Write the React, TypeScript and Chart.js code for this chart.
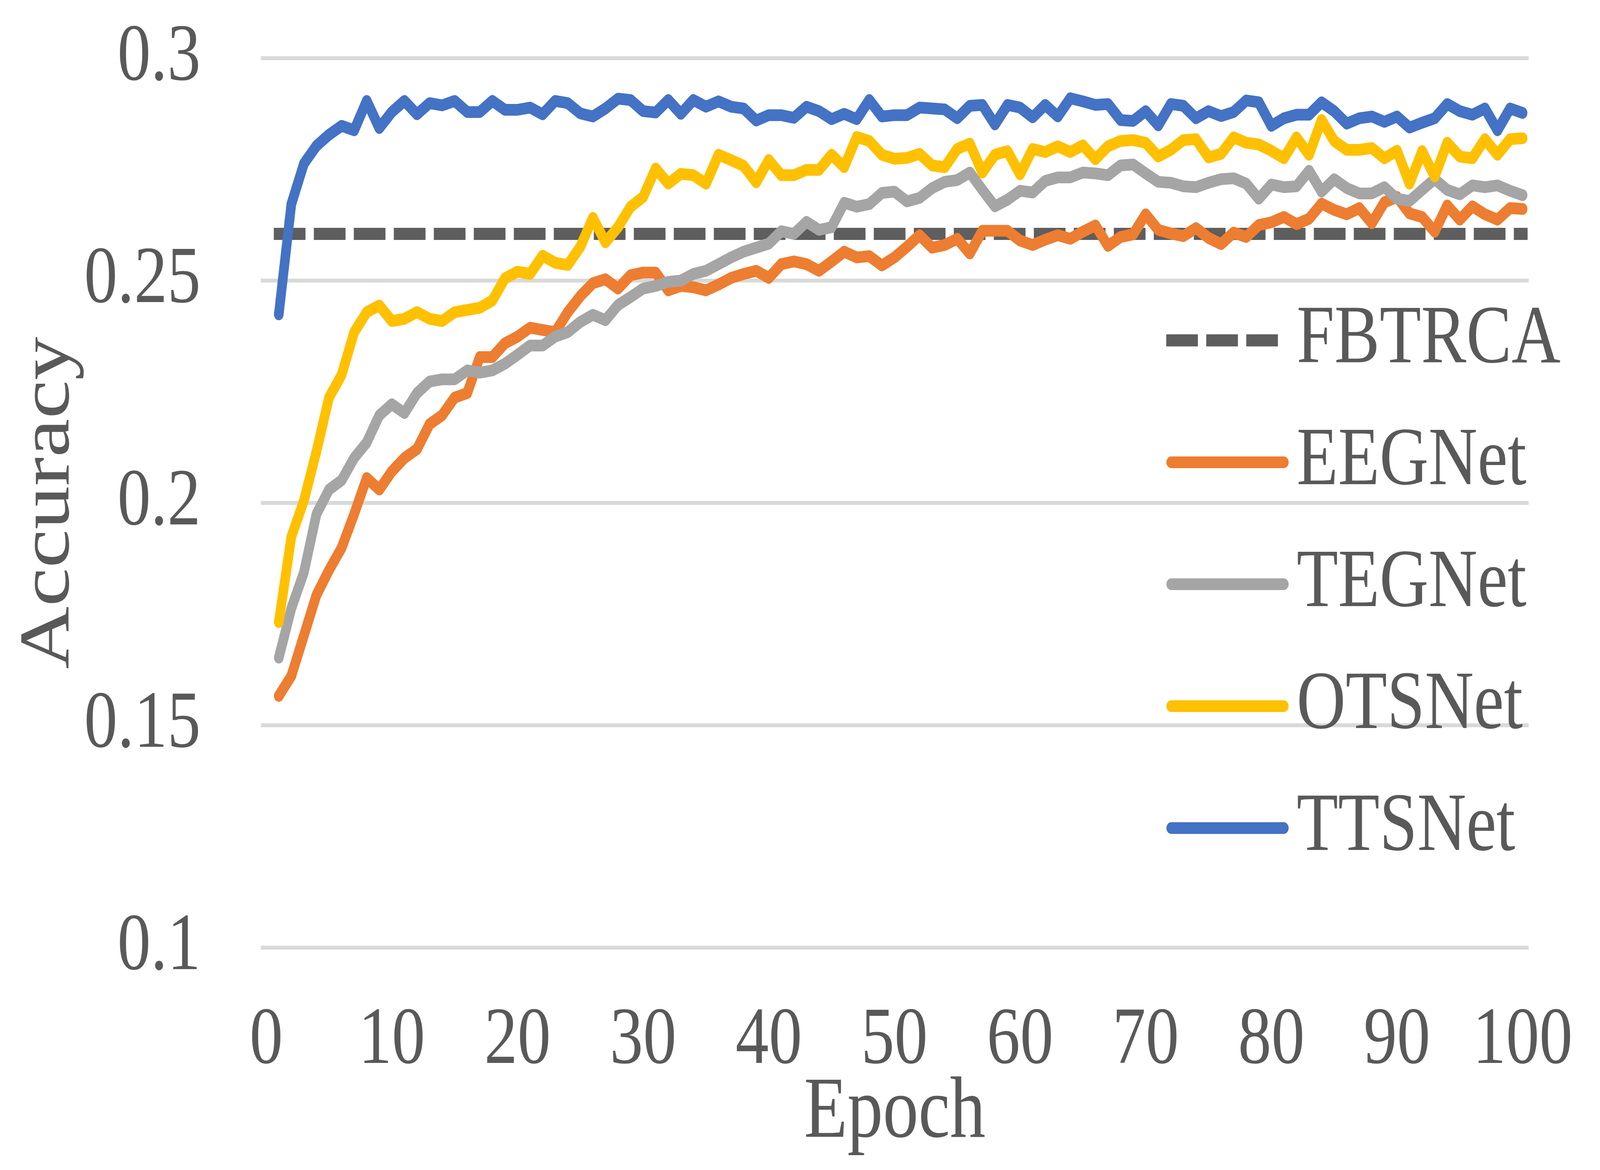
import React, { useRef, useEffect } from 'react';
import { Chart, registerables } from 'chart.js';

Chart.register(...registerables);

// epochs 1..100 (x positions of every series)
const epochs = Array.from({ length: 100 }, (_, i) => i + 1);

const xTicks = [0, 10, 20, 30, 40, 50, 60, 70, 80, 90, 100];
const yTicks = [0.1, 0.15, 0.2, 0.25, 0.3];

// FBTRCA is a flat reference line from the first to the last epoch
const fbtrcaEpochs = [1, 100];
const fbtrca = [0.2605, 0.2605];

const eegnet = [
  0.1566, 0.1611, 0.1702, 0.1793, 0.1849, 0.1899, 0.1975, 0.2056, 0.2030, 0.2071,
  0.2101, 0.2121, 0.2177, 0.2197, 0.2237, 0.2247, 0.2328, 0.2328, 0.2359, 0.2374,
  0.2394, 0.2389, 0.2384, 0.2429, 0.2465, 0.2494, 0.2503, 0.2482, 0.2512, 0.2518,
  0.2518, 0.2478, 0.2488, 0.2485, 0.2478, 0.2491, 0.2506, 0.2515, 0.2522, 0.2506,
  0.2537, 0.2543, 0.2537, 0.2522, 0.2543, 0.2565, 0.2552, 0.2555, 0.2534, 0.2552,
  0.2576, 0.2602, 0.2574, 0.2580, 0.2594, 0.2561, 0.2612, 0.2612, 0.2612, 0.2590,
  0.2580, 0.2592, 0.2602, 0.2594, 0.2610, 0.2624, 0.2578, 0.2598, 0.2604, 0.2649,
  0.2614, 0.2606, 0.2600, 0.2618, 0.2596, 0.2582, 0.2608, 0.2598, 0.2625, 0.2631,
  0.2643, 0.2627, 0.2639, 0.2673, 0.2659, 0.2649, 0.2663, 0.2629, 0.2676, 0.2688,
  0.2651, 0.2643, 0.2610, 0.2669, 0.2637, 0.2667, 0.2649, 0.2637, 0.2663, 0.2661,
];

const tegnet = [
  0.1652, 0.1763, 0.1844, 0.1975, 0.2030, 0.2051, 0.2101, 0.2136, 0.2197, 0.2222,
  0.2202, 0.2247, 0.2273, 0.2278, 0.2278, 0.2298, 0.2293, 0.2298, 0.2313, 0.2333,
  0.2354, 0.2354, 0.2374, 0.2384, 0.2407, 0.2423, 0.2411, 0.2445, 0.2463, 0.2482,
  0.2488, 0.2497, 0.2500, 0.2515, 0.2522, 0.2537, 0.2552, 0.2565, 0.2574, 0.2583,
  0.2611, 0.2605, 0.2632, 0.2614, 0.2620, 0.2675, 0.2666, 0.2672, 0.2697, 0.2700,
  0.2678, 0.2686, 0.2708, 0.2722, 0.2726, 0.2743, 0.2704, 0.2667, 0.2682, 0.2702,
  0.2698, 0.2724, 0.2732, 0.2732, 0.2743, 0.2741, 0.2737, 0.2759, 0.2761, 0.2741,
  0.2722, 0.2720, 0.2712, 0.2710, 0.2720, 0.2728, 0.2730, 0.2718, 0.2684, 0.2716,
  0.2710, 0.2712, 0.2747, 0.2700, 0.2728, 0.2708, 0.2696, 0.2696, 0.2710, 0.2684,
  0.2679, 0.2704, 0.2728, 0.2704, 0.2694, 0.2714, 0.2710, 0.2714, 0.2702, 0.2692,
];

const otsnet = [
  0.1732, 0.1924, 0.2005, 0.2116, 0.2237, 0.2288, 0.2384, 0.2429, 0.2444, 0.2409,
  0.2414, 0.2429, 0.2414, 0.2409, 0.2429, 0.2434, 0.2439, 0.2455, 0.2505, 0.2520,
  0.2515, 0.2556, 0.2540, 0.2535, 0.2576, 0.2641, 0.2586, 0.2620, 0.2666, 0.2688,
  0.2752, 0.2718, 0.2740, 0.2737, 0.2718, 0.2783, 0.2771, 0.2758, 0.2721, 0.2771,
  0.2737, 0.2737, 0.2749, 0.2749, 0.2783, 0.2755, 0.2823, 0.2814, 0.2783, 0.2774,
  0.2776, 0.2785, 0.2759, 0.2755, 0.2796, 0.2808, 0.2743, 0.2783, 0.2791, 0.2739,
  0.2796, 0.2789, 0.2802, 0.2789, 0.2804, 0.2773, 0.2802, 0.2814, 0.2816, 0.2810,
  0.2779, 0.2794, 0.2816, 0.2818, 0.2777, 0.2785, 0.2822, 0.2810, 0.2806, 0.2792,
  0.2775, 0.2822, 0.2783, 0.2861, 0.2814, 0.2794, 0.2794, 0.2798, 0.2775, 0.2792,
  0.2718, 0.2791, 0.2734, 0.2810, 0.2779, 0.2775, 0.2818, 0.2783, 0.2818, 0.2820,
];

const ttsnet = [
  0.2424, 0.2672, 0.2763, 0.2803, 0.2828, 0.2848, 0.2838, 0.2904, 0.2843, 0.2879,
  0.2904, 0.2874, 0.2899, 0.2894, 0.2904, 0.2879, 0.2879, 0.2904, 0.2884, 0.2884,
  0.2889, 0.2874, 0.2904, 0.2899, 0.2876, 0.2869, 0.2887, 0.2909, 0.2906, 0.2881,
  0.2878, 0.2906, 0.2875, 0.2906, 0.2891, 0.2903, 0.2891, 0.2887, 0.2860, 0.2872,
  0.2872, 0.2866, 0.2891, 0.2881, 0.2863, 0.2875, 0.2863, 0.2906, 0.2869, 0.2872,
  0.2872, 0.2889, 0.2887, 0.2885, 0.2865, 0.2893, 0.2895, 0.2851, 0.2895, 0.2889,
  0.2867, 0.2895, 0.2869, 0.2910, 0.2903, 0.2895, 0.2897, 0.2861, 0.2859, 0.2881,
  0.2849, 0.2897, 0.2893, 0.2865, 0.2881, 0.2870, 0.2879, 0.2905, 0.2901, 0.2848,
  0.2865, 0.2873, 0.2873, 0.2901, 0.2881, 0.2853, 0.2865, 0.2869, 0.2857, 0.2869,
  0.2844, 0.2855, 0.2865, 0.2897, 0.2881, 0.2873, 0.2887, 0.2838, 0.2887, 0.2877,
];

// the canvas is drawn at the reference size and stretched by CSS to the viewport
const W = 5000;
const H = 2994;
const FONT = '"Liberation Serif", "Times New Roman", serif';
const TEXT = '#595959';
const CLEAR = 'rgba(0,0,0,0)';
const LINE_W = 30;

const toPoints = (xs: number[], ys: number[]) => xs.map((x, i) => ({ x, y: ys[i] }));

// legend sits inside the plot, on the right, like the Excel original
const sideLegend = {
  id: 'sideLegend',
  afterDraw(chart: any) {
    const { ctx } = chart;
    ctx.save();
    ctx.font = `212px ${FONT}`;
    ctx.textBaseline = 'middle';
    ctx.textAlign = 'left';
    chart.data.datasets.forEach((ds: any, i: number) => {
      const y = 871 + i * 312;
      ctx.beginPath();
      ctx.lineWidth = ds.borderWidth;
      ctx.strokeStyle = ds.borderColor;
      ctx.lineCap = ds.borderCapStyle;
      ctx.setLineDash(ds.borderDash || []);
      ctx.moveTo(3660, y);
      ctx.lineTo(4012, y);
      ctx.stroke();
      ctx.setLineDash([]);
      ctx.fillStyle = TEXT;
      ctx.fillText(ds.label, 4052, y);
    });
    ctx.restore();
  },
};

const App = () => {
  const canvasRef = useRef<HTMLCanvasElement | null>(null);

  useEffect(() => {
    document.body.style.margin = '0';
    document.body.style.overflow = 'hidden';
    if (!canvasRef.current) return;

    const solid = (label: string, color: string, ys: number[], order: number) => ({
      label,
      data: toPoints(epochs, ys),
      borderColor: color,
      backgroundColor: color,
      borderWidth: LINE_W,
      borderCapStyle: 'round',
      borderJoinStyle: 'round',
      pointRadius: 0,
      tension: 0,
      order,
    });

    const chart = new Chart(canvasRef.current, {
      type: 'line',
      data: {
        datasets: [
          {
            label: 'FBTRCA',
            data: toPoints(fbtrcaEpochs, fbtrca),
            borderColor: '#5E5E5E',
            backgroundColor: '#5E5E5E',
            borderWidth: 31,
            borderDash: [68, 57],
            borderCapStyle: 'square',
            pointRadius: 0,
            order: 5,
          },
          solid('EEGNet', '#ED7D31', eegnet, 4),
          solid('TEGNet', '#A5A5A5', tegnet, 3),
          solid('OTSNet', '#FFC000', otsnet, 2),
          solid('TTSNet', '#4472C4', ttsnet, 1),
        ] as any,
      },
      options: {
        responsive: false,
        devicePixelRatio: 1,
        animation: false,
        layout: { padding: { top: 149, right: 223, bottom: 0, left: 0 } },
        plugins: {
          legend: { display: false },
          tooltip: { enabled: false },
        },
        scales: {
          x: {
            type: 'linear',
            min: -0.43,
            max: 100.48,
            afterBuildTicks: (scale: any) => {
              scale.ticks = xTicks.map((v) => ({ value: v }));
            },
            afterFit: (scale: any) => {
              scale.height = H - 2425;
            },
            // invisible tick marks push the labels down without padding the chart area
            grid: { display: true, color: CLEAR, drawOnChartArea: false, drawTicks: true, tickLength: 136, tickColor: CLEAR },
            border: { display: false },
            ticks: {
              padding: 0,
              maxRotation: 0,
              autoSkip: false,
              color: TEXT,
              font: { family: FONT, size: 208, lineHeight: 1 },
              callback: (v: any) => String(v),
            },
            title: {
              display: true,
              text: 'Epoch',
              color: TEXT,
              font: { family: FONT, size: 222, lineHeight: 1 },
              padding: { top: 0, bottom: 32 },
            },
          },
          y: {
            type: 'linear',
            min: 0.1,
            max: 0.3,
            afterBuildTicks: (scale: any) => {
              scale.ticks = yTicks.map((v) => ({ value: v }));
            },
            afterFit: (scale: any) => {
              scale.width = 815;
            },
            grid: { color: '#D9D9D9', lineWidth: 10, drawTicks: true, tickLength: 188, tickColor: CLEAR },
            border: { display: false },
            ticks: {
              padding: 0,
              color: TEXT,
              font: { family: FONT, size: 208, lineHeight: 1 },
              callback: (v: any) => String(v),
            },
            title: {
              display: true,
              text: 'Accuracy',
              color: TEXT,
              font: { family: FONT, size: 222, lineHeight: 1 },
              padding: { top: 45, bottom: 0 },
            },
          },
        },
      } as any,
      plugins: [sideLegend],
    });

    return () => {
      chart.destroy();
    };
  }, []);

  return (
    <div style={{ width: '100vw', height: '100vh', overflow: 'hidden', background: '#fff' }}>
      <canvas
        ref={canvasRef}
        width={W}
        height={H}
        style={{ display: 'block', width: '100vw', height: '100vh' }}
      />
    </div>
  );
};

export default App;
